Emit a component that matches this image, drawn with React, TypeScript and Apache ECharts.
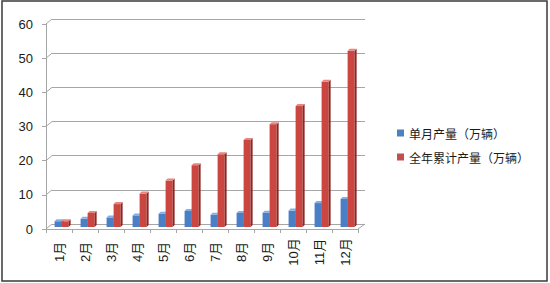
import React, { useEffect, useRef } from "react";
import * as echarts from "echarts";

const months = ["1月", "2月", "3月", "4月", "5月", "6月", "7月", "8月", "9月", "10月", "11月", "12月"];
const monthly = [1.7, 2.4, 2.8, 3.4, 3.9, 4.7, 3.6, 4.1, 4.2, 4.8, 7.0, 8.2];
const cumulative = [1.7, 4.1, 6.7, 9.8, 13.6, 18.1, 21.3, 25.5, 30.1, 35.4, 42.5, 51.6];
const yTicks = [0, 10, 20, 30, 40, 50, 60];
const seriesNames = ["单月产量（万辆）", "全年累计产量（万辆）"];

const FONT = "'Liberation Sans', 'Noto Sans CJK SC', sans-serif";

function makeBarRender(colors: { front: string; side: string; top: string }, offsetFrac: number) {
  return (params: any, api: any) => {
    const i = api.value(0);
    const v = api.value(1);
    const base = api.coord([i, 0]);
    const top = api.coord([i, v]);
    const band = api.size([1, 0])[0];
    const w = band * 0.27;
    const d = 2;
    const shiftY = -2;
    const x0 = base[0] + band * offsetFrac;
    const yB = base[1] + shiftY;
    const yT = top[1] + shiftY;
    return {
      type: "group",
      children: [
        {
          type: "rect",
          shape: { x: x0, y: yT, width: w, height: yB - yT },
          style: { fill: colors.front },
        },
        {
          type: "polygon",
          shape: { points: [[x0 + w, yB], [x0 + w + d, yB - d], [x0 + w + d, yT - d], [x0 + w, yT]] },
          style: { fill: colors.side },
        },
        {
          type: "polygon",
          shape: { points: [[x0, yT], [x0 + d, yT - d], [x0 + w + d, yT - d], [x0 + w, yT]] },
          style: { fill: colors.top },
        },
      ],
    };
  };
}

export default function App() {
  const ref = useRef<HTMLDivElement>(null);
  useEffect(() => {
    if (!ref.current) return;
    const chart = echarts.init(ref.current, undefined, { renderer: "svg" });
    const gridColor = "#a6a6a6";
    const option: any = {
      animation: false,
      backgroundColor: "#ffffff",
      grid: [
        { left: 46, right: 192, top: 24, bottom: 54 },
        { left: 52, right: 185, top: 19, bottom: 59 },
      ],
      xAxis: [
        {
          type: "category",
          gridIndex: 0,
          data: months,
          boundaryGap: true,
          axisLine: { show: true, lineStyle: { color: gridColor, width: 1 } },
          axisTick: { show: true, length: 4, alignWithLabel: false, lineStyle: { color: gridColor } },
          axisLabel: {
            rotate: 90,
            interval: 0,
            margin: 23,
            align: "center",
            verticalAlign: "middle",
            fontSize: 13,
            fontFamily: FONT,
            color: "#1a1a1a",
          },
          splitLine: { show: false },
        },
        {
          type: "category",
          gridIndex: 1,
          data: months,
          show: false,
        },
      ],
      yAxis: [
        {
          type: "value",
          gridIndex: 0,
          min: 0,
          max: 60,
          interval: 10,
          axisLine: { show: true, lineStyle: { color: gridColor, width: 1 } },
          axisTick: { show: true, length: 4, lineStyle: { color: gridColor } },
          axisLabel: {
            margin: 13,
            fontSize: 13,
            fontFamily: FONT,
            color: "#1a1a1a",
            formatter: (val: number) => (yTicks.includes(val) ? String(val) : ""),
          },
          splitLine: { show: false },
        },
        {
          type: "value",
          gridIndex: 1,
          min: 0,
          max: 60,
          interval: 10,
          axisLine: { show: false },
          axisTick: { show: false },
          axisLabel: { show: false },
          splitLine: { show: true, lineStyle: { color: gridColor, width: 1 } },
        },
      ],
      legend: {
        orient: "vertical",
        left: 392,
        top: 121,
        itemWidth: 7,
        itemHeight: 7,
        itemGap: 10,
        icon: "rect",
        textStyle: { fontSize: 12, fontFamily: "'Noto Sans CJK SC', sans-serif", color: "#1a1a1a", lineHeight: 14 },
        data: seriesNames,
      },
      series: [
        {
          name: "connectors",
          type: "custom",
          xAxisIndex: 0,
          yAxisIndex: 0,
          silent: true,
          data: yTicks.map((t) => [0, t]),
          renderItem: (params: any, api: any) => {
            const v = api.value(1);
            const p = api.coord([0, v]);
            const cs = params.coordSys;
            const children: any[] = [
              {
                type: "line",
                shape: { x1: cs.x, y1: p[1], x2: cs.x + 6, y2: p[1] - 5 },
                style: { stroke: gridColor, lineWidth: 1 },
              },
            ];
            if (v === 0) {
              children.push({
                type: "line",
                shape: { x1: cs.x + cs.width, y1: p[1], x2: cs.x + cs.width + 7, y2: p[1] - 5 },
                style: { stroke: gridColor, lineWidth: 1 },
              });
            }
            return { type: "group", children };
          },
        },
        {
          name: seriesNames[0],
          type: "custom",
          xAxisIndex: 0,
          yAxisIndex: 0,
          itemStyle: { color: "#4f81bd" },
          data: monthly.map((v, i) => [i, v]),
          renderItem: makeBarRender({ front: "#4a7fc6", side: "#2d5a97", top: "#86aee3" }, -0.17),
        },
        {
          name: seriesNames[1],
          type: "custom",
          xAxisIndex: 0,
          yAxisIndex: 0,
          itemStyle: { color: "#c0504d" },
          data: cumulative.map((v, i) => [i, v]),
          renderItem: makeBarRender({ front: "#cc4641", side: "#8c2724", top: "#e8857f" }, 0.1),
        },
      ],
      graphic: [
        {
          type: "rect",
          shape: { x: 2, y: 1, width: 545, height: 280 },
          style: { fill: "none", stroke: "#3a3a3a", lineWidth: 1.5 },
          silent: true,
        },
      ],
    };
    chart.setOption(option);
    return () => chart.dispose();
  }, []);
  return (
    <div
      ref={ref}
      style={{ position: "absolute", left: 0, top: 0, width: 550, height: 283, background: "#fff" }}
    />
  );
}
